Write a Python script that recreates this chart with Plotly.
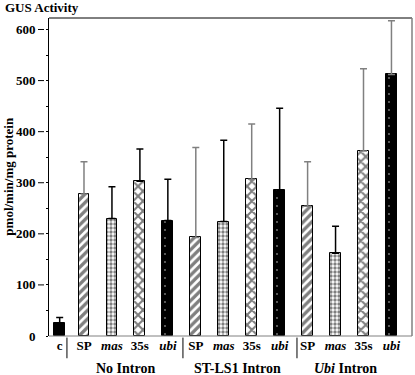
import plotly.graph_objects as go

# ---- data ----
labels = ["c", "SP", "mas", "35s", "ubi", "SP", "mas", "35s", "ubi", "SP", "mas", "35s", "ubi"]
values = [25, 278, 230, 303, 226, 193, 224, 307, 285, 254, 162, 362, 512]
errors = [11, 63, 62, 63, 81, 176, 159, 108, 161, 87, 53, 161, 105]
groups = ["No Intron", "ST-LS1 Intron", "<i>Ubi</i> Intron"]
y_ticks = [0, 100, 200, 300, 400, 500, 600]

FONT = "Liberation Serif"
Y_MAX = 622.5
positions = [0.13] + [float(i) for i in range(1, 13)]
err_gray = {1, 5, 7, 9, 11, 12}

def pattern_for(lab):
    if lab == "c":
        return dict(shape="")
    if lab == "SP":
        return dict(shape="/", fgcolor="black", bgcolor="white", size=6, solidity=0.55)
    if lab == "mas":
        return dict(shape=".", fgcolor="black", bgcolor="white", size=4, solidity=0.55)
    if lab == "35s":
        return dict(shape="x", fgcolor="black", bgcolor="white", size=7, solidity=0.5)
    return dict(shape=".", fgcolor="white", bgcolor="black", size=8, solidity=0.04)

fig = go.Figure()
for i, (lab, v, e) in enumerate(zip(labels, values, errors)):
    fig.add_trace(go.Bar(
        x=[positions[i]], y=[v], width=0.39,
        marker=dict(color="black" if lab in ("c", "ubi") else "white",
                    line=dict(color="black", width=1),
                    pattern=pattern_for(lab)),
        error_y=dict(type="data", array=[e], symmetric=False, arrayminus=[0],
                     color="#808080" if i in err_gray else "black",
                     thickness=1.5, width=3.5),
        showlegend=False,
    ))

ticktext = [f"<i>{l}</i>" if l in ("mas", "ubi") else l for l in labels]

fig.update_layout(
    width=415, height=375,
    margin=dict(l=49, r=3, t=18, b=39),
    plot_bgcolor="white", paper_bgcolor="white",
    font=dict(family=FONT, color="black", size=13, weight="bold"),
    bargap=0,
    xaxis=dict(range=[-0.252, 12.735], tickvals=positions, ticktext=ticktext,
               showgrid=False, zeroline=False, showline=False, ticks="",
               tickfont=dict(family=FONT, size=13, weight="bold")),
    yaxis=dict(range=[0, Y_MAX], tickvals=y_ticks, showgrid=False, zeroline=False,
               showline=True, linecolor="black", linewidth=1,
               ticks="outside", ticklen=5, tickcolor="rgba(0,0,0,0)",
               ticklabelstandoff=5,
               minor=dict(dtick=50, ticks="outside", ticklen=2, tickcolor="black"),
               tickfont=dict(family=FONT, size=13, weight="bold")),
)

shapes = [
    dict(type="line", xref="paper", yref="paper", x0=0, x1=1, y0=1, y1=1,
         line=dict(color="black", width=1)),
    dict(type="line", xref="paper", yref="paper", x0=1, x1=1, y0=0, y1=1,
         line=dict(color="#808080", width=1.5)),
    dict(type="line", xref="paper", yref="paper", x0=0, x1=1, y0=0, y1=0,
         line=dict(color="#808080", width=1)),
]
# detached major tick dashes, as in the original
for t in y_ticks[1:]:
    shapes.append(dict(type="line", xref="paper", yref="paper", x0=-11 / 363, x1=-5 / 363,
                       y0=t / Y_MAX, y1=t / Y_MAX, line=dict(color="black", width=1)))
for sx in [0.39, 4.54, 8.62]:
    shapes.append(dict(type="line", xref="x", yref="paper", x0=sx, x1=sx,
                       y0=-0.005, y1=-0.07, line=dict(color="black", width=1)))
fig.update_layout(shapes=shapes)

annotations = [
    dict(text="GUS Activity", xref="paper", yref="paper", x=-0.128, y=1.0,
         xanchor="left", yanchor="bottom", yshift=1, showarrow=False,
         font=dict(family=FONT, size=13, weight="bold")),
    dict(text="pmol/min/mg protein", xref="paper", yref="paper", x=-0.114, y=0.503,
         textangle=-90, xanchor="center", yanchor="middle", showarrow=False,
         font=dict(family=FONT, size=13, weight="bold")),
]
for gx, g in zip([2.5, 6.5, 10.35], groups):
    annotations.append(dict(text=g, xref="x", yref="paper", x=gx, y=0,
                            yshift=-32, xanchor="center", yanchor="middle",
                            showarrow=False,
                            font=dict(family=FONT, size=14, weight="bold")))
fig.update_layout(annotations=annotations)

fig.write_html("out.html", config={"displayModeBar": False},
               post_script="document.body.style.margin='0px';")
